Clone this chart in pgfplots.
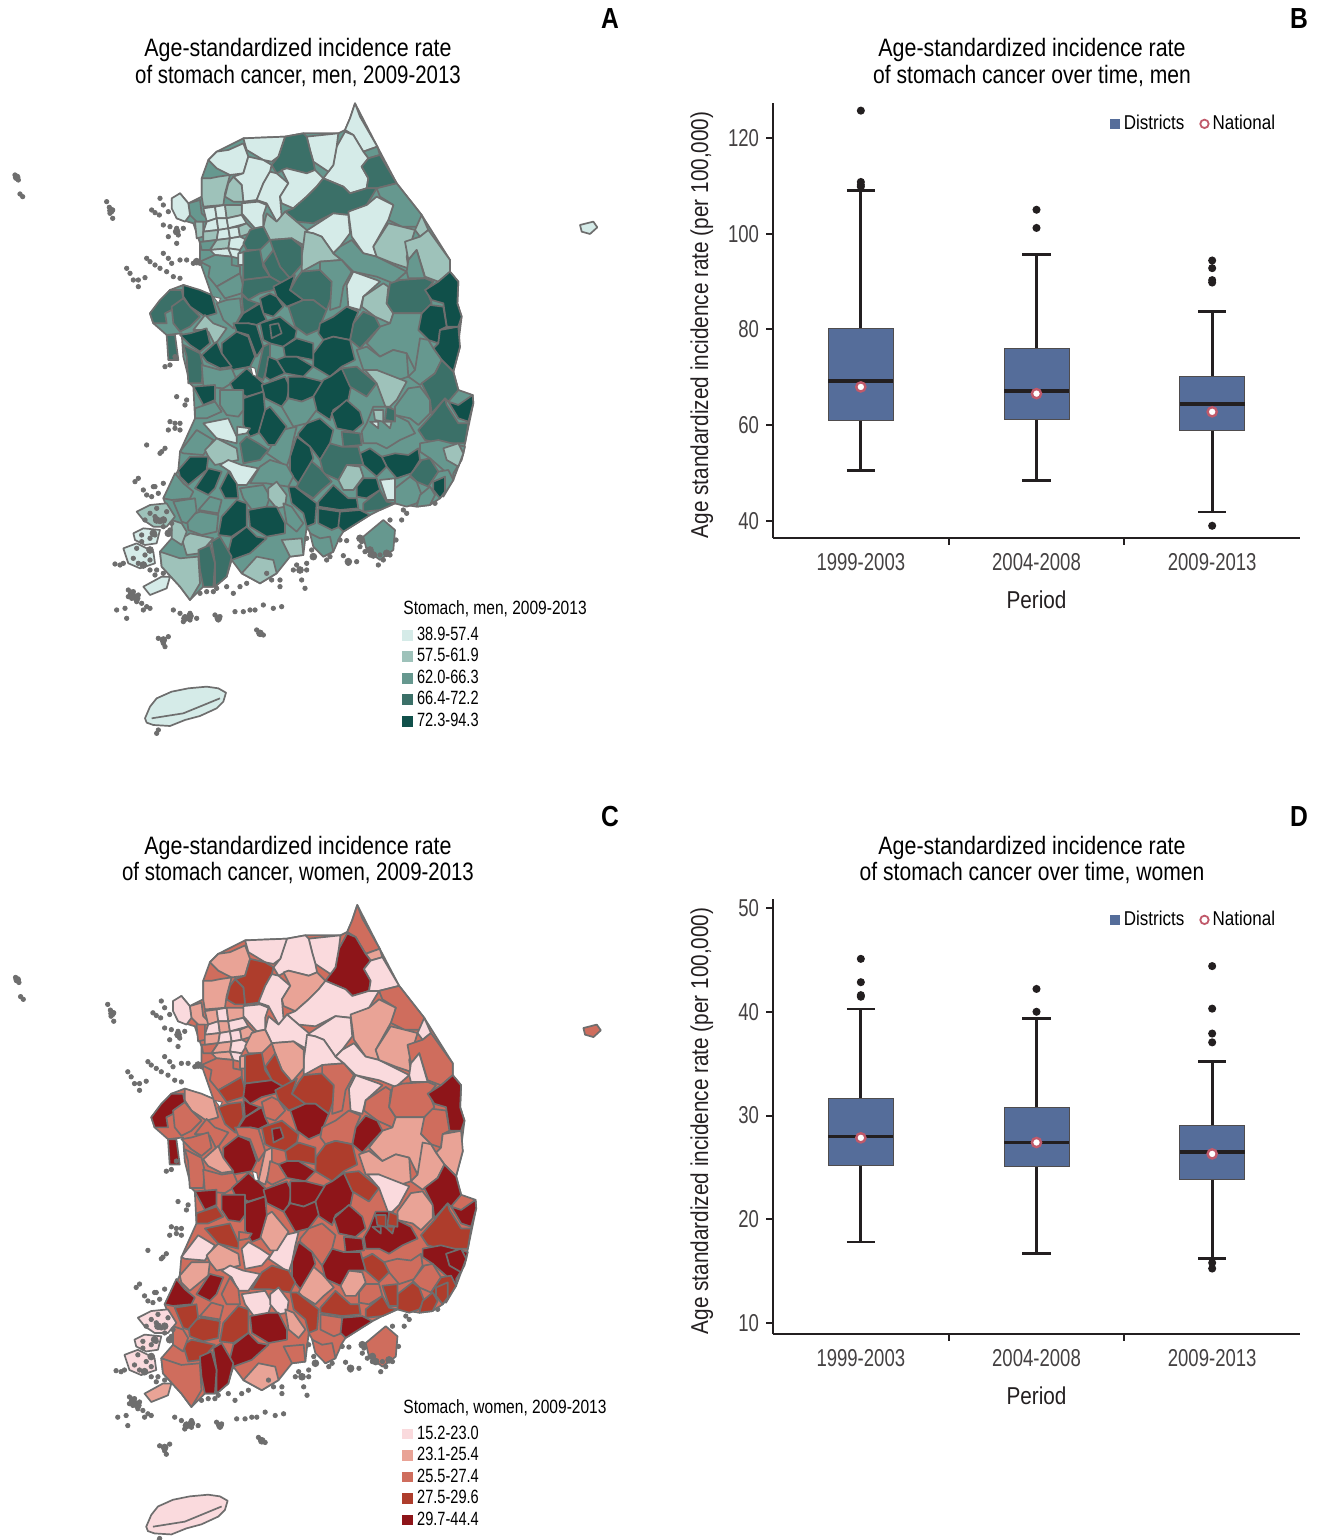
\documentclass[border=0pt]{standalone}
\usepackage{fontspec}
\usepackage{pgfplots}
\pgfplotsset{compat=1.18}
\usepgfplotslibrary{statistics}
\setmainfont[FakeStretch=0.76]{Liberation Sans}
\newfontfamily\widef[FakeStretch=0.85]{Liberation Sans}
\newfontfamily\midf[FakeStretch=0.81]{Liberation Sans}
\newfontfamily\midg[FakeStretch=0.837]{Liberation Sans}
\definecolor{c11}{HTML}{D5EBE8}\definecolor{c12}{HTML}{9EC2BA}\definecolor{c13}{HTML}{66988F}\definecolor{c14}{HTML}{3B7068}\definecolor{c15}{HTML}{10504A}
\definecolor{c21}{HTML}{FADADD}\definecolor{c22}{HTML}{E9A396}\definecolor{c23}{HTML}{CF6D5D}\definecolor{c24}{HTML}{AE3D2C}\definecolor{c25}{HTML}{8E1519}
\definecolor{bord}{HTML}{6E6E6E}\definecolor{ink}{HTML}{231F20}\definecolor{boxc}{HTML}{556D9A}\definecolor{natc}{HTML}{C0596A}
\newcommand\D[3]{\edef\col{\ifnum\mapid=1 #1\else #2\fi}\edef\temp{\noexpand\addplot[forget plot,draw=bord,line width=0.85pt,line join=round,fill=c\mapid\col] coordinates {#3} --cycle;}\temp}
\newcommand\districts{%
\D{3}{3}{(765,40)(832,170)(890,280)(965,375)(1050,510)(1050,545)(1075,575)(1072,640)(1085,680)(1075,760)(1080,770)(1060,845)(1075,900)(1118,915)(1120,940)(1095,1060)(1090,1090)(1060,1170)(1035,1205)(1020,1225)(990,1245)(950,1250)(885,1240)(840,1260)(810,1275)(770,1300)(730,1325)(720,1340)(700,1385)(670,1400)(620,1310)(610,1395)(570,1400)(530,1450)(480,1480)(425,1450)(395,1410)(380,1460)(345,1490)(310,1490)(270,1530)(240,1490)(185,1430)(180,1385)(215,1345)(215,1290)(190,1225)(235,1140)(240,1085)(285,985)(280,890)(270,880)(250,800)(245,730)(200,735)(160,700)(150,670)(210,600)(250,585)(335,615)(300,515)(300,460)(280,400)(230,385)(215,330)(240,310)(265,340)(305,320)(305,265)(325,210)(350,185)(430,145)(555,140)(610,130)(715,130)(735,120)(750,85)}
\D{1}{3}{(765,40)(780,80)(832,170)(790,185)(760,135)(735,120)(750,85)}
\D{3}{2}{(790,185)(832,170)(840,195)(805,205)}
\D{1}{5}{(735,125)(760,135)(790,185)(805,205)(785,230)(805,265)(800,295)(750,310)(730,290)(670,265)(700,225)(710,170)}
\D{4}{1}{(805,205)(840,195)(890,280)(830,295)(800,295)(805,265)(785,230)}
\D{1}{1}{(620,140)(715,130)(710,170)(700,225)(685,245)(640,215)(630,180)}
\D{4}{1}{(555,140)(610,130)(620,140)(630,180)(640,215)(645,240)(620,250)(560,235)(530,250)(515,225)(535,200)}
\D{1}{1}{(430,145)(555,140)(535,200)(515,215)(490,210)(440,180)}
\D{1}{2}{(325,210)(350,185)(385,180)(430,160)(445,200)(430,250)(390,255)(350,235)}
\D{1}{4}{(445,200)(490,210)(515,225)(510,245)(490,280)(470,330)(430,335)(425,285)(400,260)(430,250)}
\D{1}{1}{(510,245)(530,250)(565,280)(540,320)(545,380)(530,395)(500,340)(470,330)(490,280)}
\D{1}{2}{(545,240)(560,235)(620,250)(645,240)(670,265)(650,290)(620,320)(580,355)(545,340)(540,320)(565,280)}
\D{4}{1}{(670,265)(730,290)(750,310)(800,295)(830,295)(800,345)(750,375)(700,370)(640,400)(590,395)(555,365)(580,355)(620,320)(650,290)}
\D{3}{3}{(830,295)(890,280)(965,375)(960,410)(905,410)(865,390)(880,345)(840,320)}
\D{1}{2}{(830,320)(880,345)(865,390)(820,470)(830,500)(790,490)(755,440)(745,365)(800,345)}
\D{1}{1}{(615,425)(700,370)(745,375)(750,430)(720,470)(700,490)(665,440)(640,430)}
\D{2}{1}{(500,370)(530,395)(555,365)(590,395)(620,420)(610,465)(575,445)(510,450)(490,410)}
\D{2}{1}{(610,465)(615,425)(640,430)(665,440)(700,490)(725,510)(660,515)(605,545)(605,500)}
\D{3}{1}{(720,470)(755,450)(790,490)(830,500)(920,545)(880,580)(830,560)(760,545)(725,510)(700,490)}
\D{2}{2}{(820,470)(865,400)(905,410)(945,420)(920,500)(925,535)(880,520)(830,500)}
\D{2}{1}{(945,420)(965,375)(985,420)(960,440)}
\D{2}{3}{(915,455)(960,440)(985,420)(1050,510)(1050,545)(1015,575)(975,560)(950,480)(925,510)}
\D{3}{1}{(925,510)(950,480)(975,565)(925,565)(920,545)}
\D{2}{2}{(305,265)(330,265)(355,260)(390,255)(375,310)(370,345)(310,350)(305,320)}
\D{2}{4}{(400,260)(425,285)(430,335)(400,335)(375,320)(385,280)}
\D{3}{2}{(265,340)(300,330)(305,370)(330,395)(290,395)(270,375)}
\D{1}{1}{(215,325)(240,310)(265,340)(270,375)(255,395)(230,385)(215,355)}
\D{1}{1}{(425,340)(475,335)(500,345)(490,375)(490,410)(465,415)(425,370)}
% metropolitan mesh
\D{1}{2}{(310,355)(345,350)(350,385)(320,395)}
\D{1}{1}{(345,350)(375,345)(380,385)(350,385)}
\D{2}{2}{(375,345)(425,345)(425,375)(380,385)}
\D{1}{1}{(320,395)(350,385)(355,420)(310,425)}
\D{1}{2}{(350,385)(380,385)(385,415)(355,420)}
\D{1}{1}{(380,385)(425,375)(440,400)(385,415)}
\D{2}{3}{(285,395)(310,395)(310,440)(290,445)}
\D{2}{2}{(310,425)(355,420)(350,450)(310,455)}
\D{1}{1}{(355,420)(385,415)(390,445)(350,450)}
\D{1}{1}{(385,415)(415,410)(420,440)(390,445)}
\D{2}{2}{(415,410)(440,400)(465,425)(420,440)}
\D{3}{3}{(300,455)(310,455)(350,450)(330,480)(305,480)}
\D{2}{2}{(350,450)(390,445)(385,475)(330,480)}
\D{1}{1}{(390,445)(420,440)(440,450)(420,480)(385,475)}
\D{1}{2}{(330,480)(385,475)(395,500)(345,495)}
\D{1}{1}{(385,475)(420,480)(415,505)(395,500)}
\D{1}{2}{(415,490)(440,485)(440,525)(415,525)}
\D{4}{2}{(450,420)(465,415)(490,410)(510,450)(480,480)(440,480)(430,460)}
\D{4}{2}{(510,450)(575,445)(605,470)(605,525)(570,565)(540,530)(520,480)}
\D{4}{4}{(430,485)(480,478)(490,530)(510,560)(430,570)}
\D{4}{4}{(490,520)(520,480)(540,530)(570,565)(545,580)(510,560)}
\D{3}{3}{(300,515)(345,495)(395,500)(395,525)(420,530)(420,550)(385,570)(350,590)(325,560)(330,530)}
\D{3}{4}{(385,570)(420,550)(430,590)(425,610)(375,625)(350,590)}
\D{4}{5}{(430,570)(510,560)(545,580)(520,600)(480,610)(445,630)(425,610)}
\D{5}{4}{(520,590)(585,555)(570,600)(610,630)(560,650)(530,620)}
\D{4}{4}{(590,565)(605,545)(660,540)(695,575)(695,620)(680,660)(640,630)(610,630)(570,600)}
\D{3}{3}{(660,515)(725,510)(755,545)(730,590)(720,650)(690,660)(695,575)(660,540)}
\D{1}{1}{(760,545)(830,570)(840,575)(790,620)(780,660)(745,650)(740,585)}
\D{2}{3}{(790,620)(850,580)(865,590)(860,640)(880,670)(870,700)(825,680)(785,650)}
\D{4}{3}{(870,580)(900,570)(975,565)(1000,575)(980,600)(995,640)(965,670)(880,670)(860,640)}
\D{5}{5}{(975,600)(1015,575)(1050,545)(1075,575)(1072,640)(1085,680)(1075,710)(1040,710)(1030,640)(995,630)}
\D{5}{3}{(955,680)(990,645)(1030,650)(1040,710)(1020,720)(1015,760)(985,750)(955,720)}
\D{5}{2}{(1020,720)(1075,710)(1080,770)(1060,845)(1025,810)(1000,775)(1015,760)}
\D{3}{2}{(870,700)(880,670)(965,670)(955,720)(985,750)(945,840)(920,790)(880,780)(840,800)(800,760)(840,710)}
\D{4}{5}{(790,665)(825,680)(840,710)(780,775)(750,750)(760,700)}
\D{4}{5}{(565,650)(610,630)(640,630)(680,660)(655,720)(620,735)(585,710)}
\D{5}{3}{(660,700)(700,680)(740,650)(775,665)(760,700)(750,750)(700,740)(670,750)(655,730)}
\D{5}{4}{(640,790)(670,750)(700,740)(750,750)(765,810)(725,830)(690,860)(640,830)}
\D{3}{2}{(770,780)(800,770)(840,800)(880,780)(920,790)(925,860)(880,875)(830,840)(790,840)}
\D{3}{2}{(960,745)(985,750)(1000,775)(1025,810)(1005,850)(960,885)(925,860)(945,840)}
\D{5}{3}{(480,625)(510,610)(530,620)(550,650)(520,680)(490,670)}
\D{4}{5}{(425,615)(445,630)(475,640)(430,670)}
\D{3}{4}{(350,640)(380,630)(420,625)(425,670)(400,715)(370,690)}
\D{5}{5}{(430,670)(480,640)(490,670)(500,690)(470,705)(445,700)(415,715)(400,715)}
\D{5}{2}{(250,585)(300,600)(335,615)(350,670)(315,680)(270,650)(250,620)}
\D{4}{5}{(150,670)(180,630)(210,600)(245,600)(250,625)(235,650)(195,670)(200,700)(160,700)}
\D{4}{3}{(215,650)(250,625)(270,650)(300,680)(270,710)(240,725)(220,700)}
\D{2}{3}{(280,720)(315,675)(340,700)(380,715)(345,765)(325,725)(300,720)}
\D{5}{3}{(240,735)(270,730)(320,715)(330,760)(300,785)(270,765)}
\D{4}{5}{(200,735)(225,735)(235,810)(205,810)}
\D{5}{5}{(365,760)(410,725)(445,740)(465,800)(450,830)(395,840)(365,790)}
\D{5}{2}{(305,795)(350,755)(365,790)(395,830)(360,835)(320,815)}
\D{4}{3}{(250,765)(300,790)(310,830)(305,880)(265,880)(260,800)}
\D{3}{3}{(305,825)(360,840)(395,835)(410,870)(370,895)(310,890)}
\D{5}{3}{(400,700)(445,700)(470,705)(490,770)(470,800)(445,735)(410,725)}
\D{5}{4}{(480,700)(540,680)(590,720)(585,745)(550,770)(510,760)(490,750)}
\D{5}{5}{(510,705)(535,700)(545,730)(515,745)}
\D{5}{4}{(550,770)(590,745)(640,760)(640,810)(590,800)(555,800)}
\D{5}{5}{(530,810)(555,800)(590,800)(640,830)(610,860)(555,850)}
\D{4}{2}{(490,770)(510,760)(510,800)(490,870)(470,860)}
\D{5}{3}{(505,800)(530,810)(555,850)(510,870)(495,860)}
\D{5}{5}{(390,880)(440,835)(490,880)(490,905)(440,920)(400,900)}
\D{5}{5}{(485,885)(555,860)(570,890)(560,930)(545,950)(495,925)}
\D{5}{5}{(565,860)(610,860)(670,875)(640,920)(605,935)(565,925)}
\D{5}{5}{(670,870)(690,860)(725,835)(755,880)(745,930)(700,960)(690,990)(645,960)(640,920)}
\D{4}{4}{(725,835)(770,830)(830,880)(800,920)(750,890)}
\D{2}{1}{(795,840)(830,840)(920,875)(890,930)(860,960)(830,880)}
\D{3}{2}{(885,950)(925,895)(960,890)(990,930)(990,970)(955,1005)(930,985)(885,975)}
\D{4}{4}{(955,1020)(995,975)(1035,925)(1040,945)(1075,1000)(1105,1000)(1095,1060)(1015,1060)(975,1050)}
\D{5}{5}{(1045,935)(1075,945)(1118,915)(1120,940)(1105,995)(1075,985)}
\D{4}{5}{(965,880)(1005,850)(1025,810)(1060,845)(1075,900)(1045,935)(1035,925)(995,970)(990,930)}
\D{3}{5}{(785,1025)(800,1000)(820,950)(870,950)(885,975)(925,995)(945,1030)(900,1050)(860,1075)(830,1060)(790,1060)}
\D{2}{4}{(820,960)(850,960)(850,995)(825,990)}
\D{1}{5}{(810,995)(835,995)(835,1015)}
\D{2}{4}{(848,995)(875,995)(870,1015)}
\D{4}{4}{(860,950)(885,960)(885,995)(855,990)}
\D{3}{5}{(960,1060)(1015,1050)(1095,1070)(1085,1110)(1060,1150)(1060,1170)(1030,1140)(990,1105)(960,1085)}
\D{2}{5}{(1030,1075)(1075,1060)(1090,1090)(1075,1130)(1040,1110)}
\D{5}{3}{(845,1100)(885,1090)(925,1095)(955,1075)(960,1110)(935,1150)(890,1165)(860,1130)}
\D{5}{4}{(780,1090)(810,1075)(845,1100)(860,1130)(830,1160)(790,1125)}
\D{4}{3}{(930,1155)(965,1110)(990,1105)(1015,1145)(985,1190)(950,1175)}
\D{3}{4}{(1015,1145)(1045,1140)(1060,1170)(1030,1220)(985,1190)}
\D{5}{4}{(1000,1175)(1035,1160)(1035,1205)(1020,1225)(1000,1200)}
\D{3}{4}{(885,1195)(930,1160)(950,1175)(965,1215)(950,1240)(920,1250)(885,1240)}
\D{1}{4}{(840,1170)(885,1165)(885,1230)(860,1230)}
\D{3}{4}{(960,1215)(990,1190)(1005,1215)(990,1245)(950,1250)}
\D{5}{3}{(770,1190)(790,1165)(830,1165)(840,1200)(800,1225)(770,1220)}
\D{2}{2}{(715,1170)(740,1125)(780,1130)(790,1160)(760,1200)(730,1200)}
\D{4}{4}{(790,1240)(840,1200)(860,1235)(885,1240)(840,1260)(790,1265)}
\D{5}{5}{(695,970)(740,930)(780,965)(790,1000)(760,1025)(710,1015)}
\D{3}{5}{(545,950)(565,925)(605,935)(640,920)(650,960)(620,1000)(580,1010)}
\D{5}{3}{(595,1030)(620,1000)(660,985)(700,1020)(690,1060)(660,1110)(630,1070)(595,1040)}
\D{4}{5}{(725,1025)(780,1030)(785,1065)(730,1070)}
\D{4}{5}{(660,1110)(690,1060)(725,1070)(775,1070)(780,1090)(790,1125)(740,1125)(715,1170)(670,1150)}
\D{4}{2}{(590,1190)(630,1110)(660,1135)(695,1175)(665,1200)(640,1225)(600,1200)}
\D{5}{5}{(570,1100)(590,1040)(630,1070)(640,1105)(595,1180)(570,1150)}
\D{3}{1}{(500,1090)(545,1020)(590,1010)(580,1050)(570,1100)(560,1130)}
\D{5}{2}{(475,1025)(495,960)(510,950)(560,1010)(525,1065)(505,1065)}
\D{5}{5}{(430,925)(490,905)(495,960)(475,1030)(450,1040)(430,1005)}
\D{3}{5}{(360,900)(430,900)(430,960)(415,980)(380,975)(360,945)}
\D{5}{5}{(280,890)(345,885)(345,930)(310,945)}
\D{3}{4}{(285,955)(345,935)(365,965)(320,985)(285,985)}
\D{1}{4}{(310,1000)(385,985)(410,1040)(410,1060)(350,1045)}
\D{1}{3}{(412,1010)(450,1015)(440,1030)(412,1035)}
\D{3}{1}{(240,1085)(290,1020)(340,1050)(320,1080)(310,1095)(250,1090)}
\D{2}{2}{(315,1080)(350,1045)(410,1075)(415,1110)(345,1125)(325,1100)}
\D{4}{1}{(420,1060)(440,1040)(475,1060)(505,1080)(480,1110)(430,1120)}
\D{1}{1}{(360,1125)(385,1110)(425,1125)(475,1135)(440,1185)(410,1185)(390,1145)}
\D{3}{4}{(450,1180)(480,1130)(510,1110)(560,1125)(580,1160)(565,1190)(500,1180)}
\D{5}{2}{(235,1140)(270,1100)(325,1100)(320,1140)(265,1185)(240,1160)}
\D{5}{5}{(285,1195)(325,1135)(365,1145)(345,1195)(325,1215)}
\D{5}{3}{(360,1195)(385,1145)(410,1180)(415,1225)(375,1225)}
\D{3}{5}{(190,1225)(225,1150)(250,1180)(280,1205)(270,1225)(215,1230)}
\D{3}{1}{(420,1195)(490,1185)(510,1220)(500,1250)(460,1265)(430,1225)}
\D{2}{1}{(505,1195)(530,1175)(560,1215)(555,1250)(530,1255)(505,1225)}
\D{5}{4}{(565,1190)(585,1190)(650,1240)(645,1300)(620,1310)(610,1270)(575,1240)}
\D{5}{4}{(655,1235)(700,1185)(745,1225)(770,1225)(775,1255)(720,1260)(655,1250)}
\D{3}{2}{(550,1240)(575,1250)(610,1300)(590,1325)(560,1300)}
\D{5}{5}{(445,1260)(500,1250)(530,1250)(555,1300)(555,1330)(500,1340)(450,1310)}
\D{5}{4}{(365,1280)(410,1230)(440,1240)(440,1310)(395,1340)(355,1335)}
\D{5}{5}{(395,1345)(440,1310)(470,1340)(500,1345)(450,1390)(395,1410)(385,1385)}
\D{3}{4}{(260,1280)(300,1265)(355,1275)(350,1325)(305,1335)(265,1320)}
\D{3}{3}{(295,1260)(330,1220)(365,1230)(355,1270)}
\D{3}{4}{(220,1235)(285,1225)(290,1265)(260,1300)(245,1295)}
\D{2}{4}{(245,1345)(270,1330)(340,1345)(300,1390)(260,1395)}
\D{2}{3}{(215,1290)(245,1300)(260,1325)(245,1365)(215,1345)}
\D{4}{5}{(335,1355)(360,1340)(395,1400)(380,1460)(345,1490)(345,1420)}
\D{4}{5}{(295,1380)(330,1365)(345,1420)(340,1490)(310,1490)(300,1440)}
\D{2}{3}{(180,1385)(240,1405)(295,1400)(300,1480)(270,1530)(240,1490)(185,1430)}
\D{3}{3}{(630,1330)(660,1345)(690,1340)(700,1385)(670,1400)(640,1370)}
\D{5}{3}{(655,1255)(720,1265)(720,1310)(695,1320)(655,1300)}
\D{5}{5}{(720,1265)(780,1260)(810,1275)(770,1300)(730,1325)(715,1310)}
\D{3}{3}{(790,1340)(850,1290)(885,1320)(880,1380)(840,1410)(800,1380)}
\D{2}{2}{(425,1450)(470,1400)(520,1410)(530,1450)(480,1480)}
\D{2}{3}{(545,1350)(605,1345)(610,1395)(570,1400)}
\D{1}{2}{(130,1490)(185,1460)(210,1460)(200,1495)(150,1515)}
\D{2}{1}{(110,1265)(150,1245)(200,1240)(225,1280)(200,1310)(160,1310)(130,1290)}
\D{1}{1}{(100,1330)(130,1315)(180,1320)(170,1360)(135,1365)(105,1350)}
\D{1}{1}{(70,1375)(110,1360)(160,1385)(165,1420)(120,1435)(85,1420)}
\D{1}{1}{(135,1885)(150,1850)(170,1825)(215,1805)(265,1795)(320,1790)(355,1795)(378,1808)(370,1835)(350,1855)(300,1878)(255,1890)(210,1908)(160,1905)(140,1898)}
\D{1}{3}{(1440,405)(1480,395)(1492,412)(1470,432)(1445,425)}
\addplot[forget plot,draw=bord,line width=0.85pt] coordinates {(155,1885)(250,1870)(360,1825)};
\addplot[forget plot,fill=white,draw=bord,line width=0.5pt] coordinates {(340,620)(362,625)(355,640)} --cycle;
\addplot[forget plot,fill=white,draw=bord,line width=0.5pt] coordinates {(452,830)(465,835)(470,860)(458,855)} --cycle;
\addplot[forget plot,only marks,mark=*,mark size=1.1pt,draw=bord,fill=bord] coordinates {
(-255,255)(-250,262)(-245,270)(-240,312)(-232,320)(20,335)(28,352)(38,360)(30,370)(38,385)
(155,360)(165,368)(178,375)(190,405)(210,410)(230,415)(250,415)(230,460)(205,440)(235,435)(180,325)(190,345)(205,365)
(140,505)(150,515)(165,525)(180,535)(200,545)(190,490)(205,505)(215,520)(240,510)(260,510)(280,520)(300,520)(80,535)(90,550)(100,570)(115,570)(135,563)(115,590)(220,560)(240,565)(210,825)(225,800)(195,830)
(230,920)(260,930)(255,945)(210,995)(225,1000)(240,1000)(205,1020)(240,1020)(225,1015)(140,1065)(185,1085)(195,1075)(180,1090)(115,1165)(105,1175)(130,1200)(160,1190)(140,1215)(155,1220)(190,1180)(175,1210)(165,1190)
(150,1270)(165,1280)(180,1295)(170,1255)(135,1290)(190,1310)(210,1320)(200,1265)(215,1300)(125,1335)(150,1345)(165,1335)(125,1355)(110,1375)(135,1395)(150,1410)(100,1405)(115,1420)(45,1422)(60,1425)(70,1420)(190,1450)(165,1455)(150,1440)(170,1440)
(85,1500)(100,1505)(115,1515)(95,1525)(110,1535)(125,1540)(140,1550)(85,1520)(50,1560)(80,1585)(75,1555)(130,1560)(150,1555)(220,1560)
(240,1570)(255,1580)(270,1590)(290,1585)(250,1595)(270,1570)(345,1575)(355,1590)(360,1580)(405,1565)(430,1565)(450,1560)(465,1560)(490,1545)(520,1555)(545,1550)
(470,1620)(480,1632)(490,1635)(175,1645)(190,1650)(205,1640)(190,1660)(195,1670)
(300,1510)(320,1505)(340,1505)(350,1495)(380,1490)(400,1510)(420,1490)(440,1480)(500,1450)(515,1470)(540,1490)(540,1470)(620,1420)(620,1440)(590,1425)(605,1470)(615,1495)(580,1440)
(730,1397)(745,1420)(770,1415)(720,1350)(740,1352)(835,1425)(850,1410)(840,1395)(795,1385)(785,1355)(780,1370)(810,1395)(870,1395)(888,1350)(870,1290)(620,1345)(635,1380)(680,1410)(690,1400)(910,1260)(905,1290)(920,1270)(1005,1240)
(170,1930)(175,1920)};
\addplot[forget plot,only marks,mark=*,mark size=1.7pt,draw=bord,fill=bord] coordinates {
(-250,262)(33,362)(95,1510)(110,1525)(255,1585)(270,1578)(355,1585)(480,1630)(190,1290)(160,1330)(150,1380)(130,1425)(820,1395)(780,1345)(640,1400)(600,1440)(230,425)(290,515)(170,1290)(205,1330)(810,1380)(860,1390)(190,1650)(100,1520)(745,1415)};
}
\newcommand\T[4]{\node[align=center,inner sep=0pt,font=\fontsize{#3}{#3}\selectfont] at (axis cs:#1,#2) {#4}}
\pgfplotsset{boxax/.style={
  scale only axis,width=263.5pt,height=217.5pt,xmin=0.5,xmax=3.5,
  axis x line*=bottom,axis y line*=left,axis line style={-,ink,line width=1pt},
  tick style={ink,line width=1pt},tick align=outside,major tick length=3.5pt,
  xtick={1.5,2.5},xticklabels={},
  extra x ticks={1,2,3},extra x tick labels={1999-2003,2004-2008,2009-2013},
  extra x tick style={major tick length=0pt,tick style={draw=none}},
  tick label style={font=\fontsize{12.2}{14}\selectfont,text=ink!85},
  x tick label style={yshift=-4pt},
  /pgf/number format/assume math mode=true,
  xlabel={Period},ylabel={Age standardized incidence rate (per 100,000)},
  xlabel style={font=\widef\fontsize{12.2}{14}\selectfont,text=ink,at={(axis description cs:0.5,-0.1425)},anchor=center},
  ylabel style={font=\widef\fontsize{12.2}{14}\selectfont,text=ink,at={(axis description cs:-0.135,0.49)},anchor=center},
  clip=false,
  boxplot/draw direction=y,boxplot/box extend=0.37,boxplot/whisker extend=0.16,
  boxplot/every box/.style={draw=ink!80,line width=0.5pt,fill=boxc},
  boxplot/every median/.style={line width=1.9pt,draw=ink},
  boxplot/every whisker/.style={line width=1.35pt,draw=ink},
  legend columns=2,legend cell align=left,
  legend style={at={(0.961,0.952)},anchor=east,draw=none,fill=none,font=\widef\fontsize{10}{12}\selectfont,/tikz/every even column/.append style={column sep=6pt},inner sep=0pt},
},
bx/.style={mark=*,mark size=1.3pt,mark options={fill=ink,draw=ink},draw=ink,line width=1.35pt},
nat/.style={only marks,mark=*,mark size=2.3pt,mark options={draw=natc,fill=white,line width=1.2pt}},
maplegend/.style={legend cell align=left,legend style={draw=none,fill=none,font=\fontsize{9.6}{10}\selectfont,row sep=0pt,inner sep=0pt,nodes={inner ysep=0pt,inner xsep=2.5pt,minimum height=10.75pt}}},
mapax/.style={scale only axis,hide axis,clip=false,xmin=-300,xmax=1500,ymin=0,ymax=1980,y dir=reverse}}
\begin{document}
\begin{tikzpicture}
\useasboundingbox (0,0) rectangle (658pt,770pt);
% page text layer
\begin{axis}[at={(0,0)},anchor=south west,scale only axis,width=658pt,height=770pt,hide axis,clip=false,xmin=0,xmax=1316,ymin=0,ymax=1540,y dir=reverse]
\T{298}{62.5}{12.6}{\widef Age-standardized incidence rate\\[0.6pt]\midf of stomach cancer, men, 2009-2013};
\T{1032}{62.5}{12.6}{\widef Age-standardized incidence rate\\[0.6pt]\midg of stomach cancer over time, men};
\T{298}{860}{12.6}{\widef Age-standardized incidence rate\\[0.6pt]\midf of stomach cancer, women, 2009-2013};
\T{1032}{860}{12.6}{\widef Age-standardized incidence rate\\[0.6pt]\midg of stomach cancer over time, women};
\T{610}{19}{14.5}{\widef\bfseries A};\T{1299}{19}{14.5}{\widef\bfseries B};\T{610}{817}{14.5}{\widef\bfseries C};\T{1299}{817}{14.5}{\widef\bfseries D};
\node[anchor=west,inner sep=0pt,font=\midf\fontsize{9.6}{10}\selectfont] at (axis cs:403,609) {Stomach, men, 2009-2013};
\node[anchor=west,inner sep=0pt,font=\midf\fontsize{9.6}{10}\selectfont] at (axis cs:403,1408) {Stomach, women, 2009-2013};
\end{axis}
% map A
\def\mapid{1}
\begin{axis}[mapax,maplegend,at={(0pt,725pt)},anchor=north west,width=300pt,height=330pt,legend style={at={(axis cs:906,1602)},anchor=north west}]
\districts
\addlegendimage{only marks,mark=square*,mark size=2.4pt,c11}\addlegendentry{38.9-57.4}
\addlegendimage{only marks,mark=square*,mark size=2.4pt,c12}\addlegendentry{57.5-61.9}
\addlegendimage{only marks,mark=square*,mark size=2.4pt,c13}\addlegendentry{62.0-66.3}
\addlegendimage{only marks,mark=square*,mark size=2.4pt,c14}\addlegendentry{66.4-72.2}
\addlegendimage{only marks,mark=square*,mark size=2.4pt,c15}\addlegendentry{72.3-94.3}
\end{axis}
% map C
\def\mapid{2}
\begin{axis}[mapax,maplegend,at={(0.25pt,324.25pt)},anchor=north west,width=301.5pt,height=333.6pt,legend style={at={(axis cs:899,1577)},anchor=north west}]
\districts
\addlegendimage{only marks,mark=square*,mark size=2.4pt,c21}\addlegendentry{15.2-23.0}
\addlegendimage{only marks,mark=square*,mark size=2.4pt,c22}\addlegendentry{23.1-25.4}
\addlegendimage{only marks,mark=square*,mark size=2.4pt,c23}\addlegendentry{25.5-27.4}
\addlegendimage{only marks,mark=square*,mark size=2.4pt,c24}\addlegendentry{27.5-29.6}
\addlegendimage{only marks,mark=square*,mark size=2.4pt,c25}\addlegendentry{29.7-44.4}
\end{axis}
% panel B
\begin{axis}[boxax,at={(386.5pt,501pt)},anchor=south west,ymin=36.45,ymax=127.3,ytick={40,60,80,100,120}]
\addlegendimage{only marks,mark=square*,mark size=2.4pt,boxc}\addlegendentry{Districts}
\addlegendimage{only marks,mark=*,mark size=2.1pt,mark options={draw=natc,fill=white,line width=0.9pt}}\addlegendentry{National}
\addplot[bx,boxplot prepared={draw position=1,lower whisker=50.5,lower quartile=61,median=69.3,upper quartile=80.2,upper whisker=109}] table[row sep=\\,y index=0]{125.7\\110.8\\110.2\\109.8\\};
\addplot[bx,boxplot prepared={draw position=2,lower whisker=48.5,lower quartile=61.1,median=67.2,upper quartile=76.1,upper whisker=95.7}] table[row sep=\\,y index=0]{105\\101.2\\};
\addplot[bx,boxplot prepared={draw position=3,lower whisker=41.9,lower quartile=58.8,median=64.5,upper quartile=70.2,upper whisker=83.8}] table[row sep=\\,y index=0]{94.4\\92.8\\90.3\\89.8\\39\\};
\addplot[nat] coordinates {(1,68)(2,66.6)(3,62.8)};
\end{axis}
% panel D
\begin{axis}[boxax,at={(386.5pt,103pt)},anchor=south west,ymin=8.94,ymax=50.87,ytick={10,20,30,40,50}]
\addlegendimage{only marks,mark=square*,mark size=2.4pt,boxc}\addlegendentry{Districts}
\addlegendimage{only marks,mark=*,mark size=2.1pt,mark options={draw=natc,fill=white,line width=0.9pt}}\addlegendentry{National}
\addplot[bx,boxplot prepared={draw position=1,lower whisker=17.8,lower quartile=25.2,median=27.98,upper quartile=31.66,upper whisker=40.26}] table[row sep=\\,y index=0]{45.1\\42.85\\41.6\\41.45\\};
\addplot[bx,boxplot prepared={draw position=2,lower whisker=16.7,lower quartile=25.05,median=27.4,upper quartile=30.75,upper whisker=39.35}] table[row sep=\\,y index=0]{42.2\\40\\};
\addplot[bx,boxplot prepared={draw position=3,lower whisker=16.2,lower quartile=23.85,median=26.5,upper quartile=29.05,upper whisker=35.2}] table[row sep=\\,y index=0]{44.4\\40.3\\37.9\\37.05\\15.8\\15.25\\};
\addplot[nat] coordinates {(1,27.85)(2,27.4)(3,26.3)};
\end{axis}
\end{tikzpicture}
\end{document}
